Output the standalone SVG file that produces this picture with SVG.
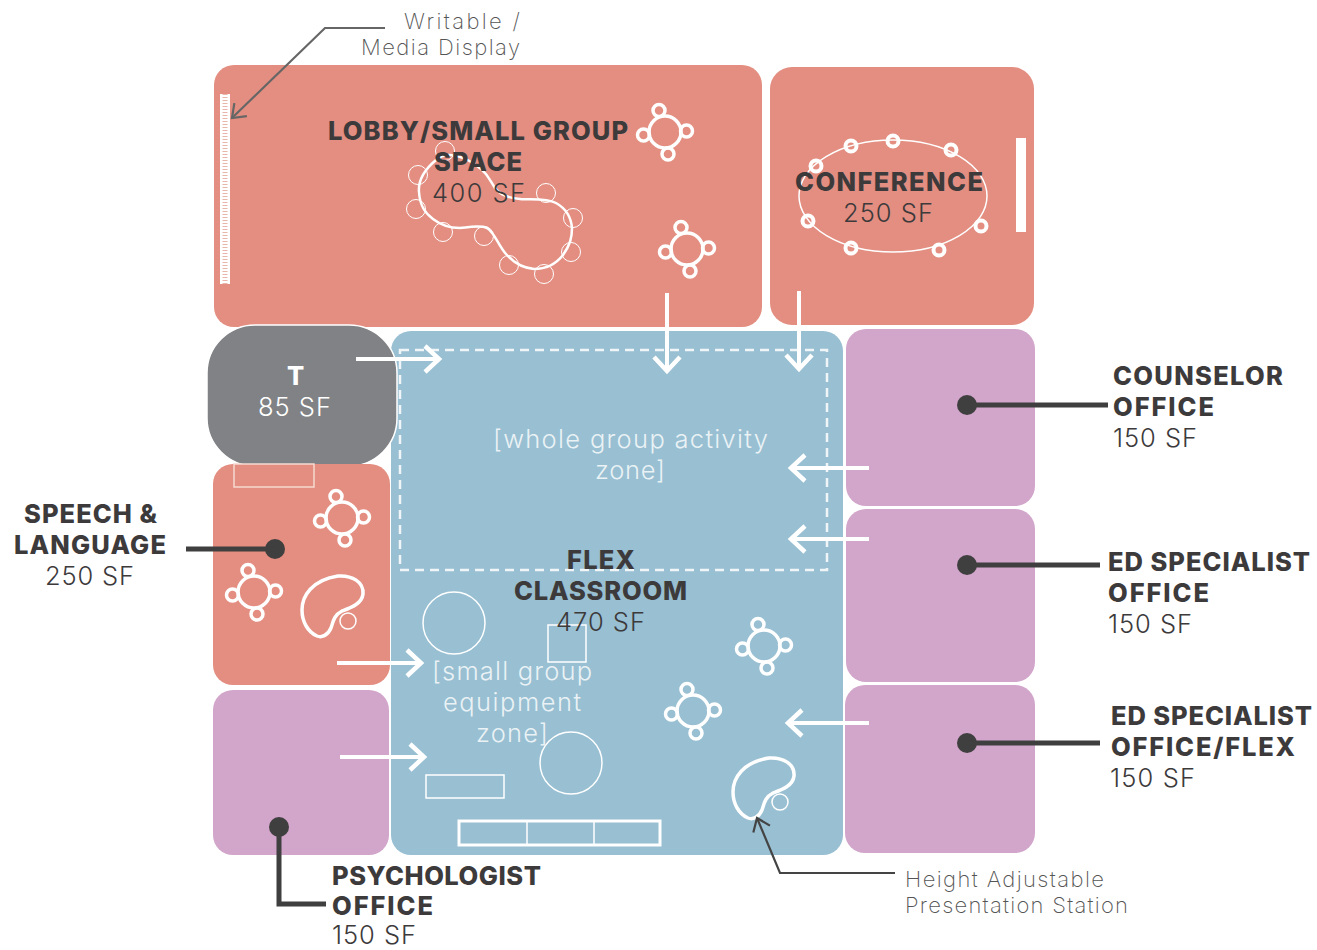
<svg xmlns="http://www.w3.org/2000/svg" width="1317" height="950" viewBox="0 0 1317 950">
<style>
.coral{fill:#e38e81}.lilac{fill:#d2a5ca}.blue{fill:#98bfd2}.gray{fill:#808285}
text{font-family:"Inter","Liberation Sans",sans-serif;font-size:25.5px}
.b{font-weight:800;fill:#3d3a3b}.r{font-weight:300;fill:#3d3a3b}
.wb{font-weight:800;fill:#fff}.w{font-weight:300;fill:#fff}.w2{font-weight:300;fill:#eaf2f5}
.n{font-weight:200;fill:#555;font-size:22px}
.hair{fill:none;stroke:#fff;stroke-width:1}
.thin{fill:none;stroke:#fff;stroke-width:1.5}
.thick{fill:none;stroke:#fff;stroke-width:3.5}
.flow{fill:none;stroke:#fff;stroke-width:4;marker-end:url(#chev)}
.lead{fill:none;stroke:#3f3f3f;stroke-width:5}
.note{fill:none;stroke-width:2.2;marker-end:url(#nh)}
</style>
<defs>
<marker id="chev" markerUnits="userSpaceOnUse" markerWidth="30" markerHeight="34" refX="21" refY="15" orient="auto"><path d="M6,2L20,15L6,28" fill="none" stroke="#fff" stroke-width="4.5"/></marker>
<marker id="nh" markerUnits="userSpaceOnUse" markerWidth="26" markerHeight="26" refX="19" refY="12" orient="auto"><path d="M7,3L19,12L7,21" fill="none" stroke="context-stroke" stroke-width="2.2"/></marker>
<g id="tbl" class="thick">
<circle r="16"/><circle cx="-6" cy="-21.5" r="6"/><circle cx="21.5" cy="-1" r="6"/><circle cx="3" cy="22" r="6"/><circle cx="-21.5" cy="3" r="6"/>
</g>
<path id="kid" class="thick" d="M302,610C302,596 312,580 338,576C352,575 364,582 363,594C362,604 350,608 342,611C334,615 333,622 331,628C328,635 322,638 317,636C308,632 302,622 302,610Z"/>
</defs>
<rect width="1317" height="950" fill="#fff"/>

<g id="lobby">
<rect class="coral" x="214" y="65" width="548" height="262" rx="20"/>
<rect x="220" y="94" width="10" height="190" fill="#fff"/>
<line x1="225" y1="94" x2="225" y2="284" stroke="#e9b5ab" stroke-width="5" stroke-dasharray="1 2"/>
<path fill="none" stroke="#fff" stroke-width="2.5" d="M436,160C424,170 418,180 419,192C420,206 425,213 433,219C442,226 450,228 460,228C470,227 480,225 487,228C495,233 498,245 506,254C514,263 523,268 534,269C546,269 556,264 563,255C570,245 572,238 572,228C571,216 565,208 556,203C546,198 530,200 520,199C508,198 500,195 495,188C488,177 486,172 477,166C465,157 447,150 436,160Z"/>
<g class="hair"><circle cx="445" cy="151" r="9.5"/><circle cx="418" cy="175" r="9.5"/><circle cx="416" cy="209" r="9.5"/><circle cx="443" cy="232" r="9.5"/><circle cx="484" cy="236" r="9.5"/><circle cx="509" cy="265" r="9.5"/><circle cx="544" cy="274" r="9.5"/><circle cx="571" cy="252" r="9.5"/><circle cx="573" cy="218" r="9.5"/><circle cx="546" cy="193" r="9.5"/></g>
<use href="#tbl" x="665" y="132"/><use href="#tbl" x="687" y="249"/>
<text class="b" x="328" y="140" textLength="300">LOBBY/SMALL GROUP</text>
<text class="b" x="434" y="171" textLength="88">SPACE</text>
<text class="r" x="432" y="202" textLength="93">400 SF</text>
</g>

<g id="conference">
<rect class="coral" x="770" y="67" width="264" height="258" rx="22"/>
<rect x="1016" y="138" width="10" height="94" fill="#fff"/>
<ellipse class="thin" cx="893" cy="196" rx="94" ry="56"/>
<g fill="none" stroke="#fff" stroke-width="4"><circle cx="851" cy="146" r="5.5"/><circle cx="893" cy="141" r="5.5"/><circle cx="951" cy="150" r="5.5"/><circle cx="816" cy="166" r="5.5"/><circle cx="808" cy="221" r="5.5"/><circle cx="851" cy="248" r="5.5"/><circle cx="939" cy="250" r="5.5"/><circle cx="981" cy="226" r="5.5"/></g>
<text class="b" x="795" y="191" textLength="188">CONFERENCE</text>
<text class="r" x="843" y="222" textLength="90">250 SF</text>
</g>

<g id="flex">
<rect class="blue" x="391" y="331" width="452" height="524" rx="20"/>
<rect x="400" y="350" width="427" height="220" fill="none" stroke="#fff" stroke-width="2.5" stroke-dasharray="9 6" opacity=".85"/>
<circle class="thin" cx="454" cy="623" r="31"/>
<rect class="thin" x="548" y="625" width="38" height="37"/>
<circle class="thin" cx="571" cy="763" r="31"/>
<rect class="thin" x="426" y="775" width="78" height="23"/>
<rect class="thick" style="stroke-width:3" x="459" y="821" width="201" height="24"/>
<path class="thin" d="M527,821V845M594,821V845"/>
<use href="#tbl" x="764" y="646"/><use href="#tbl" x="693" y="711"/>
<use href="#kid" x="431" y="182"/>
<circle class="thin" cx="780" cy="802" r="8"/>
<text class="w2" x="493" y="448" textLength="275">[whole group activity</text>
<text class="w2" x="595" y="479" textLength="70">zone]</text>
<text class="b" x="567" y="569" textLength="68">FLEX</text>
<text class="b" x="514" y="600" textLength="173">CLASSROOM</text>
<text class="r" x="556" y="631" textLength="89">470 SF</text>
<text class="w2" x="432" y="680" textLength="160">[small group</text>
<text class="w2" x="443" y="711" textLength="138">equipment</text>
<text class="w2" x="476" y="742" textLength="72">zone]</text>
</g>

<g id="toilet">
<rect class="gray" x="207" y="325" width="190" height="141" rx="48" stroke="#fff" stroke-width="1.5"/>
<text class="wb" x="287" y="385" textLength="15">T</text>
<text class="w" x="258" y="416" textLength="73">85 SF</text>
</g>

<g id="speech">
<rect class="coral" x="213" y="464" width="177" height="221" rx="20"/>
<rect x="234" y="464" width="80" height="23" fill="none" stroke="#f6d9cf" stroke-width="1.5"/>
<use href="#tbl" x="342" y="518"/><use href="#tbl" x="254" y="592"/>
<use href="#kid"/>
<circle class="thin" cx="348" cy="621" r="8"/>
<text class="b" x="24" y="523" textLength="133">SPEECH &amp;</text>
<text class="b" x="14" y="554" textLength="152">LANGUAGE</text>
<text class="r" x="45" y="585" textLength="89">250 SF</text>
</g>

<g id="psychologist">
<rect class="lilac" x="213" y="690" width="176" height="165" rx="20"/>
<text class="b" x="332" y="885" textLength="209">PSYCHOLOGIST</text>
<text class="b" x="332" y="915" textLength="101">OFFICE</text>
<text class="r" x="332" y="944" textLength="84">150 SF</text>
</g>

<g id="counselor">
<rect class="lilac" x="846" y="329" width="189" height="177" rx="20"/>
<text class="b" x="1113" y="385" textLength="170">COUNSELOR</text>
<text class="b" x="1113" y="416" textLength="101">OFFICE</text>
<text class="r" x="1113" y="447" textLength="84">150 SF</text>
</g>

<g id="ed-specialist">
<rect class="lilac" x="846" y="509" width="189" height="173" rx="20"/>
<text class="b" x="1108" y="571" textLength="202">ED SPECIALIST</text>
<text class="b" x="1108" y="602" textLength="101">OFFICE</text>
<text class="r" x="1108" y="633" textLength="84">150 SF</text>
</g>

<g id="ed-specialist-flex">
<rect class="lilac" x="845" y="685" width="190" height="168" rx="20"/>
<text class="b" x="1111" y="725" textLength="201">ED SPECIALIST</text>
<text class="b" x="1111" y="756" textLength="184">OFFICE/FLEX</text>
<text class="r" x="1110" y="787" textLength="85">150 SF</text>
</g>

<g id="notes">
<text class="n" x="404" y="29" textLength="116">Writable /</text>
<text class="n" x="361" y="55" textLength="159">Media Display</text>
<text class="n" x="905" y="887" textLength="199">Height Adjustable</text>
<text class="n" x="905" y="913" textLength="223">Presentation Station</text>
</g>

<g id="connectors">
<path class="flow" d="M667,293V372"/>
<path class="flow" d="M799,291V370"/>
<path class="flow" d="M356,359H440"/>
<path class="flow" d="M869,468H790"/>
<path class="flow" d="M869,539H790"/>
<path class="flow" d="M337,663H422"/>
<path class="flow" d="M340,757H425"/>
<path class="flow" d="M869,723H787"/>
<g fill="#3f3f3f">
<circle cx="967" cy="405" r="10"/><circle cx="967" cy="565" r="10"/><circle cx="967" cy="743" r="10"/><circle cx="275" cy="549" r="10"/><circle cx="279" cy="827" r="10"/>
</g>
<path class="lead" d="M967,405H1108"/>
<path class="lead" d="M967,565H1100"/>
<path class="lead" d="M967,743H1100"/>
<path class="lead" d="M275,549H186"/>
<path class="lead" d="M279,827V904H326"/>
<path class="note" stroke="#666" d="M385,28H325L232,118"/>
<path class="note" stroke="#444" d="M895,873H780L757,818"/>
</g>
</svg>
